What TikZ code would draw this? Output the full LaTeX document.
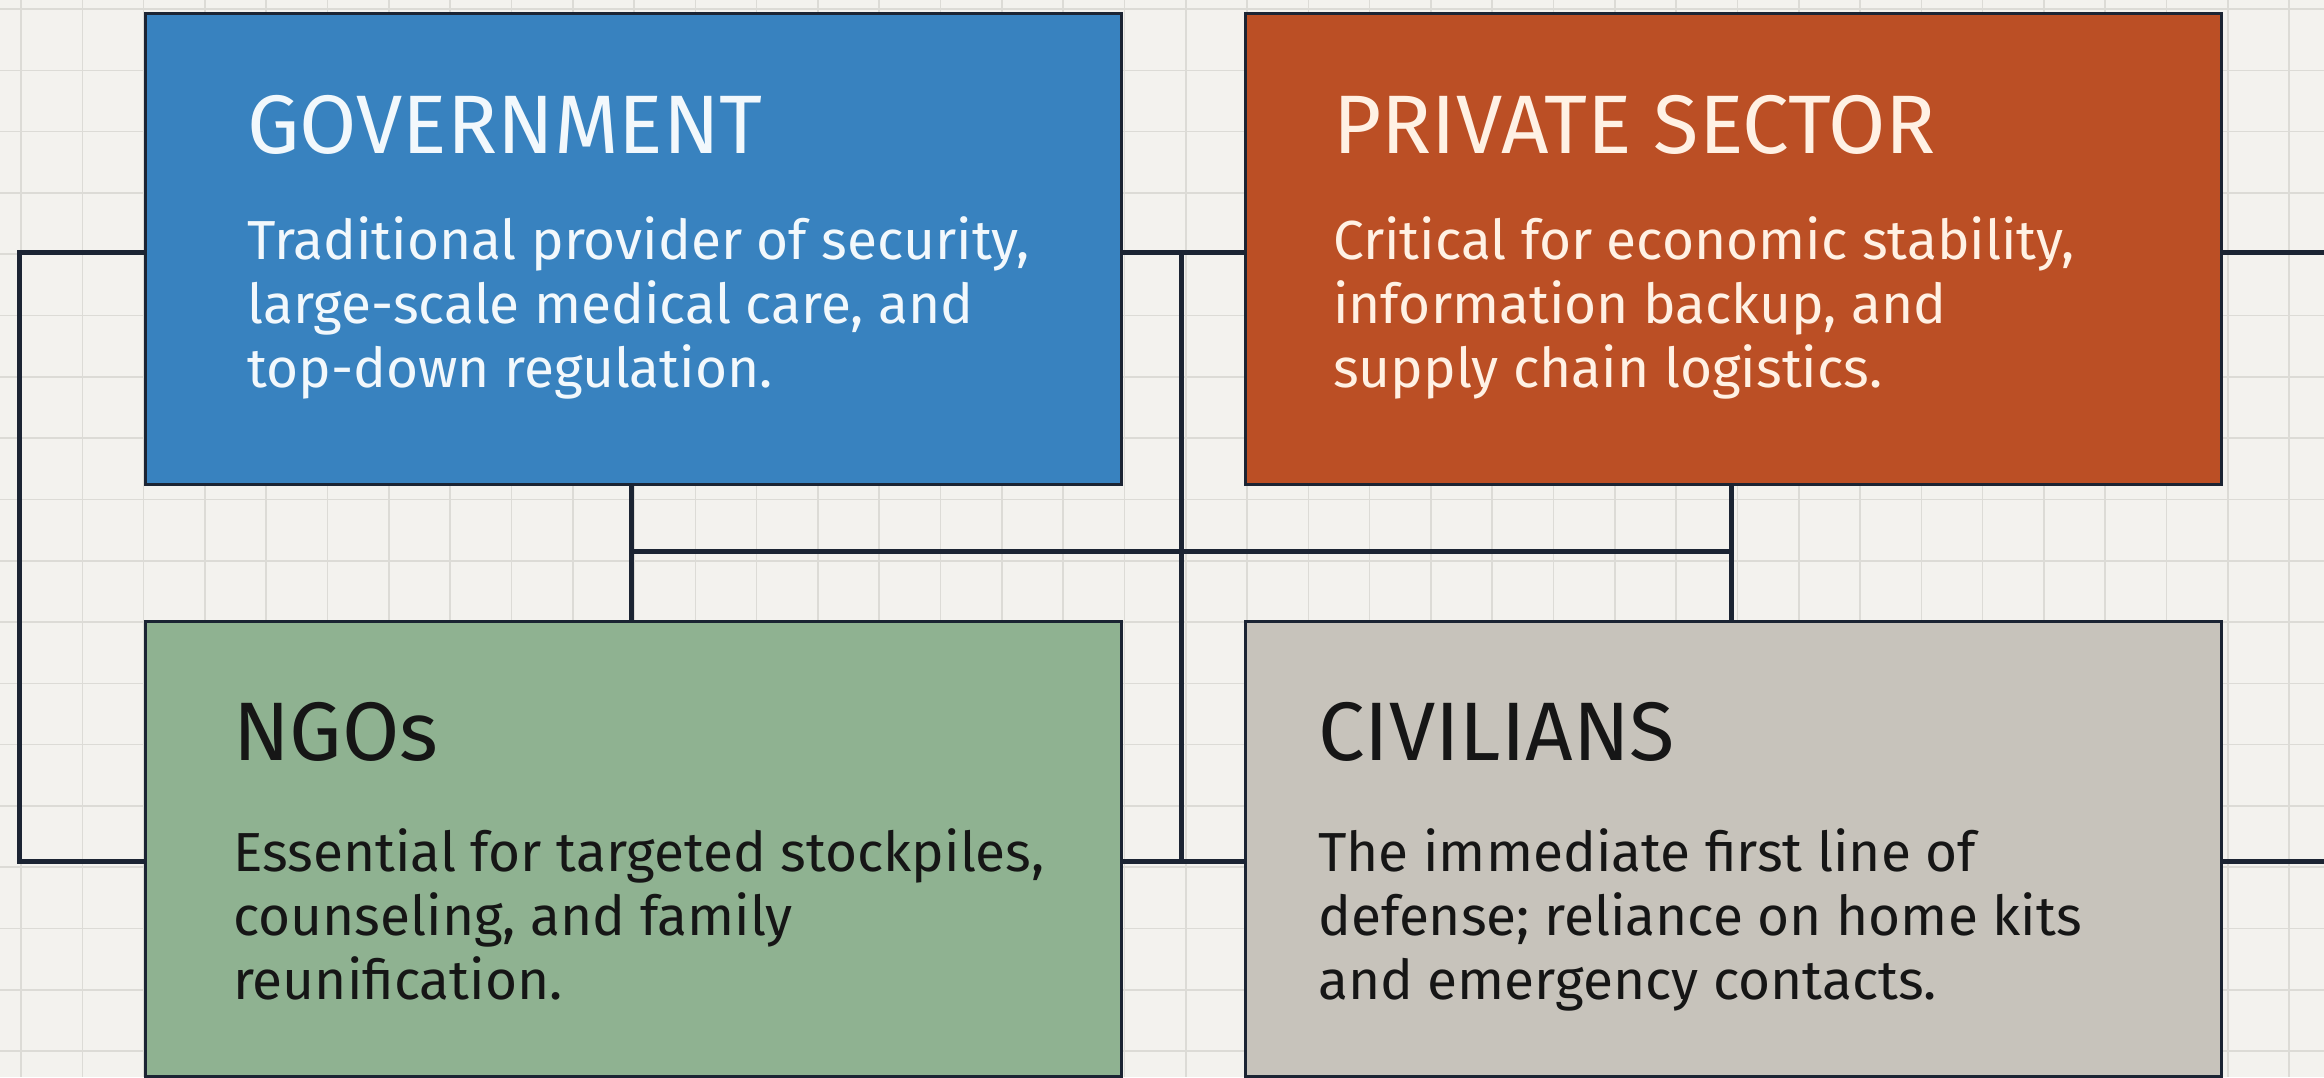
\documentclass[tikz,border=0pt]{standalone}
\usepackage{fontspec}
\setmainfont{Fira Sans}
\definecolor{bgcol}{HTML}{F3F2EE}
\definecolor{gridcol}{HTML}{DCDBD6}
\definecolor{linecol}{HTML}{1B2433}
\definecolor{govcol}{HTML}{3882BF}
\definecolor{privcol}{HTML}{BB4F25}
\definecolor{ngocol}{HTML}{8FB291}
\definecolor{civcol}{HTML}{C7C3BB}
\definecolor{lighttext}{HTML}{F2F8FC}
\definecolor{creamtext}{HTML}{FFF1E4}
\definecolor{darktext}{HTML}{161616}
\tikzset{
  gridline/.style={draw=gridcol, line width=1.6pt},
  box/.style={draw=linecol, line width=3pt, anchor=north west, inner sep=0pt,
    minimum width=976pt, minimum height=471pt},
  lowbox/.style={box, minimum height=455pt},
  link/.style={draw=linecol, line width=5pt},
  title/.style={anchor=base west, inner sep=0pt, font=\fontsize{83}{96}\selectfont},
  body/.style={anchor=base west, inner sep=0pt, font=\fontsize{55}{64}\selectfont},
}
\begin{document}
\begin{tikzpicture}[x=1pt,y=-1pt]
\useasboundingbox (0,0) rectangle (2324,1077);
\fill[bgcol] (0,0) rectangle (2324,1077);
\foreach \i in {0,...,37} \draw[gridline] ({21+61.3*\i},0) -- ({21+61.3*\i},1077);
\foreach \j in {0,...,17} \draw[gridline] (0,{9+61.3*\j}) -- (2324,{9+61.3*\j});

% boxes
\node[box, fill=govcol] (gov) at (144,12) {};
\node[box, fill=privcol] (priv) at (1244,12) {};
\node[lowbox, fill=ngocol] (ngo) at (144,620) {};
\node[lowbox, fill=civcol] (civ) at (1244,620) {};

% texts
\node[title, text=lighttext] (govt) at (247,153) {GOVERNMENT};
\node[body, text=lighttext] (govb) at (247,259) {\begin{tabular}[t]{@{}l@{}}Traditional provider of security,\\large-scale medical care, and\\top-down regulation.\end{tabular}};
\node[title, text=creamtext] (privt) at (1333,153) {PRIVATE SECTOR};
\node[body, text=creamtext] (privb) at (1333,259) {\begin{tabular}[t]{@{}l@{}}Critical for economic stability,\\information backup, and\\supply chain logistics.\end{tabular}};
\node[title, text=darktext] (ngot) at (233,760) {NGOs};
\node[body, text=darktext] (ngob) at (233,871) {\begin{tabular}[t]{@{}l@{}}Essential for targeted stockpiles,\\counseling, and family\\reunification.\end{tabular}};
\node[title, text=darktext] (civt) at (1318,760) {CIVILIANS};
\node[body, text=darktext] (civb) at (1318,871) {\begin{tabular}[t]{@{}l@{}}The immediate first line of\\defense; reliance on home kits\\and emergency contacts.\end{tabular}};

% connector anchor points
\coordinate (lt) at (19,252);
\coordinate (lb) at (19,861);
\coordinate (mt) at (1181,252);
\coordinate (mb) at (1181,861);
\coordinate (rt) at (2324,252);
\coordinate (rb) at (2324,861);
\coordinate (ha) at (631,551);
\coordinate (hb) at (1731,551);

\draw[link] (gov.west |- lt) -- (lt) -- (lb) -- (ngo.west |- lb);
\draw[link] (gov.east |- mt) -- (priv.west |- mt);
\draw[link] (mt) -- (mb);
\draw[link] (ngo.east |- mb) -- (civ.west |- mb);
\draw[link] (priv.east |- rt) -- (rt);
\draw[link] (civ.east |- rb) -- (rb);
\draw[link] (gov.south -| ha) -- (ngo.north -| ha);
\draw[link] (priv.south -| hb) -- (civ.north -| hb);
\draw[link] (ha) -- (hb);
\end{tikzpicture}
\end{document}
